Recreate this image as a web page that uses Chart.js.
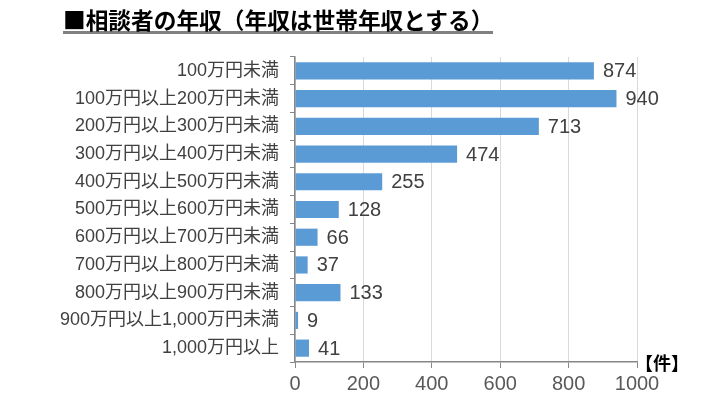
<!DOCTYPE html>
<html>
<head>
<meta charset="utf-8">
<script src="https://cdn.jsdelivr.net/npm/chart.js@4"></script>
<style>
  html, body { margin: 0; padding: 0; background: #ffffff; }
  #wrap { position: relative; width: 728px; height: 400px; }
  #title {
    position: absolute; left: 63px; top: 8px;
    font-family: "Noto Sans CJK JP", sans-serif; font-weight: bold;
    font-size: 22.7px; line-height: 23px; color: #000;
    border-bottom: 3px solid #808080; white-space: nowrap;
  }
</style>
</head>
<body>
<div id="wrap">
  <canvas id="c" width="728" height="400"></canvas>
  <div id="title">■相談者の年収（年収は世帯年収とする）</div>
</div>
<script>
const categories = [
  "100万円未満",
  "100万円以上200万円未満",
  "200万円以上300万円未満",
  "300万円以上400万円未満",
  "400万円以上500万円未満",
  "500万円以上600万円未満",
  "600万円以上700万円未満",
  "700万円以上800万円未満",
  "800万円以上900万円未満",
  "900万円以上1,000万円未満",
  "1,000万円以上"
];
const counts = [874, 940, 713, 474, 255, 128, 66, 37, 133, 9, 41];
const unitLabel = "【件】";
const xMin = 0, xMax = 1000, xStep = 200;

const FONT = '"Liberation Sans", "Noto Sans CJK JP", sans-serif';

const valueLabels = {
  id: 'valueLabels',
  afterDatasetsDraw(chart) {
    const ctx = chart.ctx;
    const meta = chart.getDatasetMeta(0);
    ctx.save();
    ctx.font = '20px ' + FONT;
    ctx.fillStyle = '#404040';
    ctx.textAlign = 'left';
    ctx.textBaseline = 'middle';
    meta.data.forEach((bar, i) => {
      ctx.fillText(String(counts[i]), bar.x + 9, bar.y + 1);
    });
    const xs = chart.scales.x;
    ctx.font = 'bold 18px "Noto Sans CJK JP", sans-serif';
    ctx.fillStyle = '#000';
    ctx.fillText(unitLabel, xs.right - 2, chart.chartArea.bottom + 1);
    ctx.restore();
  }
};

new Chart(document.getElementById('c'), {
  type: 'bar',
  data: {
    labels: categories,
    datasets: [{
      data: counts,
      backgroundColor: '#5b9bd5',
      borderWidth: 0,
      categoryPercentage: 1,
      barPercentage: 0.62
    }]
  },
  options: {
    indexAxis: 'y',
    responsive: false,
    animation: false,
    devicePixelRatio: 1,
    layout: { padding: { left: 0, right: 91, top: 57, bottom: 0 } },
    plugins: { legend: { display: false }, tooltip: { enabled: false }, title: { display: false } },
    scales: {
      x: {
        min: xMin, max: xMax,
        ticks: { stepSize: xStep, color: '#595959', font: { family: FONT, size: 20 }, padding: 4,
                 callback: (v) => String(v) },
        grid: { color: '#d9d9d9', tickColor: '#868686', tickLength: 6, lineWidth: 1 },
        border: { color: '#868686', width: 1.5 },
        afterFit(scale) { scale.height = 38; }
      },
      y: {
        ticks: { color: '#404040', font: { family: FONT, size: 18 }, padding: 11 },
        grid: { drawOnChartArea: false, tickColor: '#868686', tickLength: 5, offset: true },
        border: { color: '#868686', width: 1.5 },
        afterFit(scale) { scale.width = 295; }
      }
    }
  },
  plugins: [valueLabels]
});
</script>
</body>
</html>
